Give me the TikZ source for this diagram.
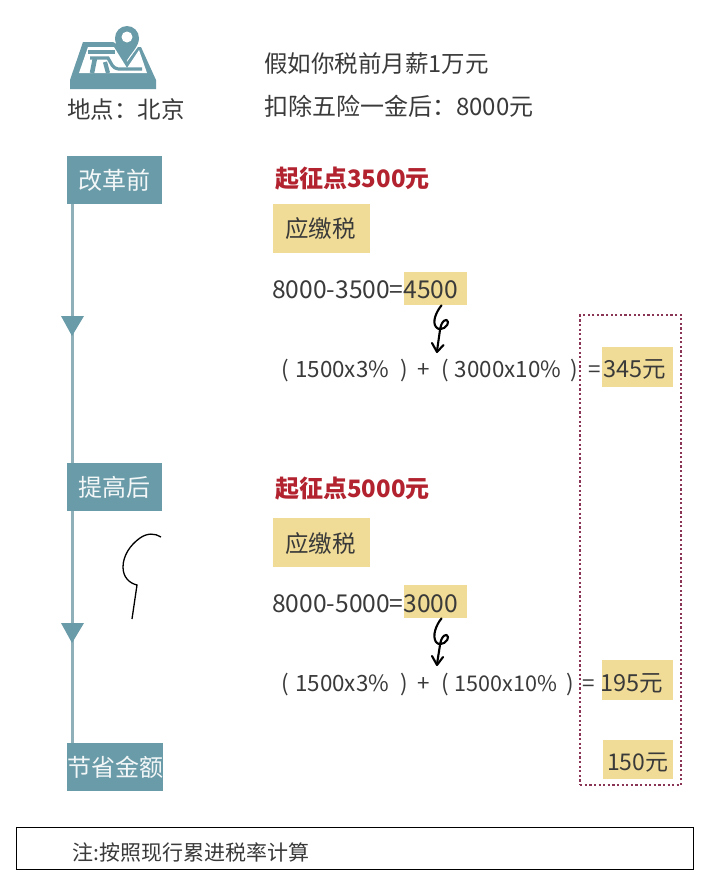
\documentclass[tikz,border=0pt]{standalone}
\usepackage{fontspec}
\setmainfont{Noto Sans CJK SC}
\usetikzlibrary{calc}
\definecolor{teal1}{HTML}{6A9BA8}
\definecolor{teal2}{HTML}{8FB0B8}
\definecolor{hl}{HTML}{F0DC96}
\definecolor{ink}{HTML}{3A3A3A}
\definecolor{redt}{HTML}{B2232F}
\definecolor{dotc}{HTML}{8A3555}
\tikzset{
  x=1pt,y=1pt,
  txt/.style={anchor=base west,inner sep=0pt,text=ink,font=\fontsize{23.5}{28}\selectfont},
  formula/.style={anchor=base west,inner sep=0pt,text=ink,font=\fontsize{22.4}{26}\selectfont},
  calc line/.style={anchor=base west,inner sep=0pt,text=ink,font=\fontsize{24.6}{28}\selectfont},
  redhead/.style={anchor=base west,inner sep=0pt,text=redt,font=\fontsize{24}{28}\selectfont\bfseries},
  stepbox/.style={anchor=north west,fill=teal1,minimum width=95pt,minimum height=48pt,inner sep=0pt,text=white!92!teal1,font=\fontsize{24}{28}\selectfont},
  mark box/.style={fill=hl,draw=none,inner sep=0pt,anchor=north west},
  hand/.style={draw=black,line width=2.1pt,line cap=round,line join=round},
  timeline/.style={draw=teal2,line width=3pt},
  tri/.style={fill=teal1,draw=none}
}
\begin{document}
\begin{tikzpicture}
\useasboundingbox (0,0) rectangle (720,-895);
\fill[white] (0,0) rectangle (720,-895);
% highlights
\node[mark box,minimum width=97pt,minimum height=49pt] (y1) at (273,-204) {};
\node[mark box,minimum width=97pt,minimum height=49pt] (y2) at (273,-518) {};
\node[mark box,minimum width=63pt,minimum height=33pt] (y3) at (404,-272) {};
\node[mark box,minimum width=63pt,minimum height=33pt] (y4) at (404,-585) {};
\node[mark box,minimum width=71pt,minimum height=40pt] (y5) at (602,-347) {};
\node[mark box,minimum width=71pt,minimum height=40pt] (y6) at (602,-660) {};
\node[mark box,minimum width=70pt,minimum height=39pt] (y7) at (603,-740) {};
% boxes
\node[stepbox] (a) at (67,-156) {改革前};
\node[stepbox] (b) at (67,-463) {提高后};
\node[stepbox] (c) at (67,-743) {节省金额};
% timeline
\draw[timeline] ($(a.south west)+(5,0)$) -- ($(b.north west)+(5,0)$);
\draw[timeline] ($(b.south west)+(5,0)$) -- ($(c.north west)+(5,0)$);
\fill[tri] (61,-316) -- (84,-316) -- (72,-336) -- cycle;
\fill[tri] (61,-623) -- (84,-623) -- (72,-643) -- cycle;
% map icon
\fill[teal1] (70,-80) -- (83,-42) -- (113,-42) -- (122,-47) -- (127,-62) -- (138,-47) -- (141,-47) -- (156,-80) -- (156,-89) -- (70,-89) -- cycle;
\fill[white] (88,-47) -- (114,-47) -- (127,-68) -- (139,-50) -- (147,-73) -- (79,-73) -- cycle;
\begin{scope}[draw=teal1,line width=3.2pt]
\draw (88,-52) -- (115,-52);
\draw (90,-58) -- (108,-58) -- (112,-65) .. controls (115,-70) and (120,-69) .. (125,-69) -- (142,-69);
\draw[line width=4.6pt] (95,-58) -- (92,-73);
\draw[line width=4.2pt] (105,-62) -- (108,-73);
\end{scope}
\fill[teal1] (127,-62) .. controls (122,-52) and (115,-46) .. (115,-38) arc[start angle=180,end angle=0,radius=12] .. controls (139,-46) and (132,-52) .. (127,-60) -- cycle;
\fill[white] (127,-37) circle[radius=5.5];
% top text
\node[txt] (place) at (67,-118) {地点：北京};
\node[txt] (l1) at (264,-72) {假如你税前月薪1万元};
\node[txt,font=\fontsize{24}{28}\selectfont] (l2) at (264,-115) {扣除五险一金后：8000元};
% first block
\node[redhead] (r1) at (275,-187) {起征点3500元};
\node[txt] (t1) at (285,-237) {应缴税};
\node[calc line] (e1) at (272,-298) {8000-3500=4500};
\node[formula] (f1) at (281,-377) {(\hspace{6.5pt}1500x3\%\hspace{11pt})\hspace{10pt}+\hspace{11pt}(\hspace{6pt}3000x10\%\hspace{9pt})\hspace{11pt}=};
\node[txt] (v1) at (603,-377) {345元};
% second block
\node[redhead] (r2) at (275,-497) {起征点5000元};
\node[txt] (t2) at (285,-552) {应缴税};
\node[calc line] (e2) at (272,-612) {8000-5000=3000};
\node[formula] (f2) at (281,-691) {(\hspace{6.5pt}1500x3\%\hspace{11pt})\hspace{10pt}+\hspace{11pt}(\hspace{6pt}{\fontsize{21.6}{26}\selectfont 1500x10\%}\hspace{9pt})\hspace{9pt}=};
\node[txt] (v2) at (600,-691) {195元};
\node[txt,font=\fontsize{23}{28}\selectfont] (v3) at (607,-770) {150元};
% dotted frame
\node[draw=dotc,dash pattern=on 2.2pt off 2.4pt,line width=2.2pt,anchor=north west,minimum width=101pt,minimum height=470pt,inner sep=0pt] (frame) at (579,-314) {};
% note
\node[draw=black,line width=0.8pt,anchor=north west,minimum width=677pt,minimum height=42pt,inner sep=0pt] (note) at (16,-827) {};
\node[anchor=base west,inner sep=0pt,text=ink,font=\fontsize{21}{24}\selectfont] (nt) at (72,-860) {注:按照现行累进税率计算};
% hand strokes
\coordinate (s1) at (441.5,-307);
\draw[hand] (y3.south west -| s1) .. controls (436,-312) and (432,-322) .. (436,-327) .. controls (441,-333) and (449,-325) .. (448,-322) .. controls (447,-317) and (441,-321) .. (440,-330) -- (437,-351);
\draw[hand] (432,-343) -- (437,-352) -- (443.5,-345);
\draw[hand] (y4.south west -| s1) .. controls (436,-625) and (432,-636) .. (436,-642) .. controls (441,-648) and (449,-640) .. (448,-637) .. controls (447,-632) and (441,-636) .. (440,-645) -- (437,-664);
\draw[hand] (432,-656) -- (437,-665) -- (443,-657);
\draw[draw=black,line width=1.3pt] (161,-537) .. controls (155,-533) and (147,-533) .. (140,-538) .. controls (130,-545) and (123,-556) .. (123,-567) .. controls (123,-577) and (129,-583) .. (137,-585) -- (132,-619);
\end{tikzpicture}
\end{document}
